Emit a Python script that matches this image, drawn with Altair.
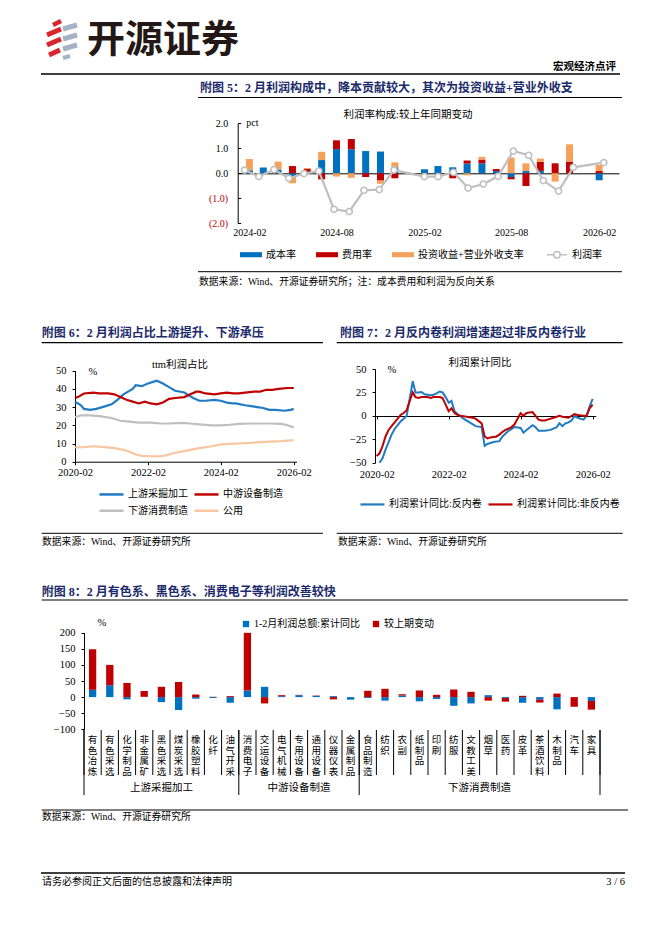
import altair as alt
import pandas as pd

# ---------------- Figure 5: profit-rate decomposition ----------------
m5 = ["2024-02", "2024-03", "2024-04", "2024-05", "2024-06", "2024-07", "2024-08", "2024-09",
      "2024-10", "2024-11", "2024-12", "2025-02", "2025-03", "2025-04", "2025-05", "2025-06",
      "2025-07", "2025-08", "2025-09", "2025-10", "2025-11", "2025-12", "2026-02"]
cost5 = [0.12, 0.23, 0.15, -0.17, 0.00, 0.53, 0.97, 0.96, 0.89, 0.87, 0.24,
         0.16, 0.29, 0.24, 0.39, 0.40, 0.09, -0.15, 0.09, 0.09, 0.00, 0.00, -0.28]
exp5 = [0.00, 0.00, 0.00, 0.29, 0.17, -0.24, 0.35, 0.41, -0.15, -0.29, -0.20,
        0.00, 0.00, -0.20, 0.12, 0.15, 0.08, -0.09, -0.51, 0.37, 0.40, 0.47, 0.09]
inv5 = [0.45, 0.00, 0.32, -0.23, 0.04, 0.33, -0.13, -0.18, 0.00, -0.13, 0.20,
        0.00, 0.00, 0.00, -0.08, 0.11, 0.00, 0.63, 0.31, 0.13, -0.33, 0.69, 0.24]
prof5 = [0.13, -0.13, 0.15, -0.20, -0.01, 0.09, -1.44, -1.53, -0.68, -0.65, 0.13,
         -0.13, -0.13, 0.04, -0.59, -0.43, -0.12, 0.89, 0.72, -0.29, -0.71, 0.24, 0.43]
names5 = ["成本率", "费用率", "投资收益+营业外收支率"]
line5_name = "利润率"
ticks5 = ["2024-02", "2024-08", "2025-02", "2025-08", "2026-02"]

# ---------------- Figure 6: ttm profit share ----------------
names6 = ["上游采掘加工", "中游设备制造", "下游消费制造", "公用"]
up6_d = ["2020-02", "2020-04", "2020-05", "2020-07", "2020-09", "2020-11", "2021-02", "2021-04",
         "2021-06", "2021-09", "2021-10", "2021-12", "2022-02", "2022-04", "2022-05", "2022-07",
         "2022-09", "2022-11", "2023-02", "2023-03", "2023-05", "2023-07", "2023-09", "2023-12",
         "2024-02", "2024-04", "2024-06", "2024-07", "2024-10", "2024-12", "2025-02", "2025-04",
         "2025-06", "2025-08", "2025-11", "2026-01", "2026-02"]
up6_v = [33, 31, 29, 28.5, 29, 30, 31.5, 34, 37, 40, 42, 41.5, 43, 44, 44.5, 43, 41, 39, 38, 37,
         35, 33.5, 33.5, 34, 33.5, 32.5, 32, 32, 31, 30.5, 30, 29.5, 28.5, 28.5, 28, 28.5, 29]
mid6_d = ["2020-02", "2020-03", "2020-05", "2020-08", "2020-10", "2021-01", "2021-03", "2021-05",
          "2021-07", "2021-09", "2021-11", "2022-01", "2022-03", "2022-05", "2022-07", "2022-09",
          "2022-11", "2023-02", "2023-04", "2023-06", "2023-07", "2023-09", "2023-12", "2024-02",
          "2024-04", "2024-06", "2024-08", "2024-10", "2025-01", "2025-03", "2025-05", "2025-07",
          "2025-09", "2025-12", "2026-02"]
mid6_v = [35, 35.5, 37.5, 38, 37.5, 37.5, 37, 35.5, 34, 33, 32, 33, 32, 31.5, 32.5, 34.5, 35,
          35.5, 37, 38.5, 38.5, 37.5, 37, 37.5, 38, 37.5, 37.5, 38, 38.5, 38.5, 39.5, 39.5, 40,
          40.5, 40.5]
down6_d = ["2020-02", "2020-04", "2020-07", "2020-10", "2021-02", "2021-05", "2021-08", "2021-11",
           "2022-03", "2022-06", "2022-09", "2023-01", "2023-04", "2023-07", "2023-11", "2024-02",
           "2024-05", "2024-08", "2024-12", "2025-03", "2025-06", "2025-10", "2025-12", "2026-02"]
down6_v = [24.5, 25.5, 25.5, 25, 24, 22.5, 22, 21.5, 21.5, 21, 21, 21.3, 21, 20.5, 20, 20, 20.3,
           20.8, 21, 21, 21, 20.8, 20, 18.8]
util6_d = ["2020-02", "2020-05", "2020-08", "2020-12", "2021-03", "2021-06", "2021-08", "2021-10",
           "2021-12", "2022-03", "2022-06", "2022-08", "2022-10", "2023-01", "2023-04", "2023-07",
           "2023-11", "2024-02", "2024-05", "2024-08", "2024-12", "2025-03", "2025-06", "2025-10",
           "2026-01", "2026-02"]
util6_v = [7.8, 8, 8.5, 8, 7.5, 6.5, 5.5, 4, 3.2, 3, 3, 3.5, 4.5, 5.5, 6.5, 7.5, 8.5, 9.5, 9.8,
           10, 10.3, 10.8, 11, 11.3, 11.7, 11.8]
ticks67 = ["2020-02", "2022-02", "2024-02", "2026-02"]

# ---------------- Figure 7: cumulative profit growth ----------------
names7 = ["利润累计同比:反内卷", "利润累计同比:非反内卷"]
anti7_d = ["2020-03", "2020-04", "2020-05", "2020-06", "2020-07", "2020-08", "2020-09", "2020-10",
           "2020-11", "2020-12", "2021-01", "2021-02", "2021-03", "2021-04", "2021-05", "2021-06",
           "2021-07", "2021-08", "2021-09", "2021-10", "2021-11", "2021-12", "2022-01", "2022-02",
           "2022-03", "2022-04", "2022-05", "2022-07", "2022-09", "2022-11", "2023-01", "2023-02",
           "2023-03", "2023-05", "2023-07", "2023-08", "2023-10", "2023-12", "2024-02", "2024-03",
           "2024-04", "2024-06", "2024-07", "2024-08", "2024-10", "2024-12", "2025-02", "2025-03",
           "2025-04", "2025-05", "2025-06", "2025-07", "2025-08", "2025-09", "2025-11", "2025-12",
           "2026-01", "2026-02"]
anti7_v = [-50, -45, -36, -28, -20, -14, -10, -6, -3, 0, 18, 37, 25, 25, 25.5, 23, 22.5, 22, 22.5,
           24, 26, 25, 20, 14, 16, 5, 2, -3, -7, -11, -12, -32, -30, -28, -27, -22, -16, -12, -13,
           -18, -15, -10, -12, -16, -16, -15, -12, -8, -11, -8, -7, -5, 0, -2, -4, 0, 10, 18]
non7_d = ["2020-02", "2020-03", "2020-04", "2020-05", "2020-06", "2020-07", "2020-08", "2020-09",
          "2020-10", "2020-11", "2020-12", "2021-01", "2021-02", "2021-03", "2021-04", "2021-05",
          "2021-07", "2021-08", "2021-09", "2021-10", "2021-11", "2021-12", "2022-01", "2022-02",
          "2022-03", "2022-04", "2022-05", "2022-06", "2022-08", "2022-10", "2022-11", "2023-01",
          "2023-02", "2023-03", "2023-04", "2023-06", "2023-07", "2023-08", "2023-09", "2023-11",
          "2023-12", "2024-01", "2024-02", "2024-03", "2024-04", "2024-05", "2024-06", "2024-07",
          "2024-08", "2024-09", "2024-10", "2024-11", "2025-01", "2025-03", "2025-04", "2025-06",
          "2025-08", "2025-09", "2025-11", "2025-12", "2026-01", "2026-02"]
non7_v = [-43, -40, -32, -22, -15, -11, -7, -3, 1, 3, 6, 16, 25, 20, 19, 20, 20, 19, 20, 20, 20,
          19, 12, 5, 8, 3, 1, 0, -1, -2, -3, -8, -22, -24, -23, -22, -20, -17, -15, -12, -9, -3,
          3, 0, 3, 3.5, 4, 0, -4, -5, -5, -4, -2, 0, -1, -2, 2, 1, 0, 0, 8, 12]

# ---------------- Figure 8: industries ----------------
groups8 = ["上游采掘加工", "中游设备制造", "下游消费制造"]
cats8_up = ["有色冶炼", "有色采选", "化学制品", "非金属矿", "黑色采选", "煤炭采选", "橡胶塑料", "化纤", "油气开采"]
cats8_mid = ["消费电子", "交运设备", "电气机械", "专用设备", "通用设备", "仪器仪表", "金属制品"]
cats8_down = ["食品制造", "纺织", "农副", "纸制品", "印刷", "纺服", "文教工美", "烟草", "医药",
              "皮革", "茶酒饮料", "木制品", "汽车", "家具"]
cum8 = [22.7, 37, -7, 1, -15.5, -40, -5, -3, -17.5,
        20.6, 32, 3, 6, 4, 3, -8,
        -3, -11, 5, -13, -6, -27, -19.6, 6, -3, -17.5, -8, -38, 0, -12]
chg8 = [125.8, 63, 44, 18, 32, 47, 8, 1, 3,
        179, -19.6, 3, 1, 1, -7, 0,
        19.6, 25.8, 4, 20.6, 7, 23.7, 16.5, -11, -11, 4, -9, 11, -30, -27]
names8 = ["1-2月利润总额:累计同比", "较上期变动"]

# ---------------- style ----------------
W, H = 646, 920
LAT = "Liberation Serif"
MIX = "Liberation Serif, Noto Sans CJK SC"
CJK = "Noto Sans CJK SC"
NAVY = "#1B2A6B"
BLUE = "#0070C0"
RED = "#C00000"
ORANGE = "#F5A15A"
GRAY = "#BFBFBF"
PEACH = "#F8C6A0"
BLUE6 = "#1F7BC4"


def cx(x):
    return x - 8


def cy(y):
    return y - 8


def txt(s, x, y, size=10.0, align="left", weight="normal", color="black", font=MIX):
    return alt.Chart(pd.DataFrame({"t": [s]})).mark_text(
        align=align, baseline="middle", fontSize=size, fontWeight=weight, color=color, font=font
    ).encode(x=alt.value(cx(x)), y=alt.value(cy(y)), text="t:N")


def hline(x1, x2, y, w=1.0, color="black"):
    return alt.Chart(pd.DataFrame({"a": [0]})).mark_rule(strokeWidth=w, color=color).encode(
        x=alt.value(cx(x1)), x2=alt.value(cx(x2)), y=alt.value(cy(y)))


def seg(x1, y1, x2, y2, w, color):
    return alt.Chart(pd.DataFrame({"a": [0]})).mark_rule(strokeWidth=w, color=color, strokeCap="butt").encode(
        x=alt.value(cx(x1)), y=alt.value(cy(y1)), x2=alt.value(cx(x2)), y2=alt.value(cy(y2)))


def ax(orient, offset, **kw):
    base = dict(orient=orient, offset=offset, grid=False, domainColor="black", domainWidth=1,
                tickColor="black", tickSize=3, labelFont=LAT, labelFontSize=10.5,
                labelColor="black", labelFlush=False, labelOverlap=False, title=None)
    base.update(kw)
    return alt.Axis(**base)


def dt(s, day=1):
    y, m = s.split("-")
    return alt.DateTime(year=int(y), month=int(m), date=day)


def ts(lst):
    return [pd.Timestamp(s + "-01") for s in lst]


def pct_title(x_off, y):
    return dict(title="%", titleAngle=0, titleX=x_off, titleY=cy(y), titleAlign="left",
                titleBaseline="middle", titleFont=LAT, titleFontSize=10.5,
                titleFontWeight="normal", titleColor="black")


layers = []

# ---------------- header ----------------
LRED, LGRAY = "#D7282F", "#A3B3C5"
layers += [
    seg(53, 25, 61, 21, 4.5, LRED), seg(47, 35, 61, 29, 5, LRED),
    seg(47, 45, 61, 39, 5, LRED), seg(49, 55, 60, 50, 5, LRED),
    seg(63, 29, 77, 25, 5, LGRAY), seg(63, 39, 77, 35, 5, LGRAY),
    seg(63, 49, 77, 45, 5, LGRAY), seg(63, 58, 70, 56, 4, LGRAY),
    txt("开源证券", 87, 41, 38, weight="bold", color="#231815", font=CJK),
    txt("宏观经济点评", 616, 67, 10.5, align="right", weight="bold", font=CJK),
    hline(41, 620, 74, 1.5),
]

# ---------------- Figure 5 ----------------
rows = []
for i, d in enumerate(ts(m5)):
    for k, (nm, vals) in enumerate(zip(names5, [cost5, exp5, inv5])):
        rows.append({"date": d, "series": nm, "value": vals[i], "k": k})
df5 = pd.DataFrame(rows)
df5l = pd.DataFrame({"date": ts(m5), "series": line5_name, "value": prof5})

x5 = alt.Scale(domain=[dt("2024-01", 18), dt("2026-03", 4)], range=[cx(237.7), cx(619)], nice=False)
y5 = alt.Scale(domain=[-2, 2], range=[cy(223.3), cy(123.3)], nice=False, zero=False)
x5axis = ax("bottom", cy(173.3) - H, values=[dt(s) for s in ticks5], format="%Y-%m",
            ticks=False, labelPadding=54, labelFontSize=10)
y5axis = ax("left", -cx(237.7), values=[-2, -1, 0, 1, 2], ticks=False,
            labelExpr="datum.value < 0 ? '(' + format(-datum.value, '.1f') + ')' : format(datum.value, '.1f')",
            labelColor={"condition": {"test": "datum.value < 0", "value": RED}, "value": "black"},
            labelPadding=10, labelFontSize=10,
            title="pct", titleAngle=0, titleX=8, titleY=cy(122), titleAlign="left",
            titleBaseline="middle", titleFont=LAT, titleFontSize=10, titleFontWeight="normal",
            titleColor="black")
# inward tick marks of the value axis (drawn as a right-oriented axis at the same spot)
y5ticks_in = ax("right", cx(237.7) - W, values=[-2, -1, 0, 1, 2], labels=False, domain=False,
                tickSize=3)

bars5 = alt.Chart(df5).mark_bar(size=7).encode(
    x=alt.X("date:T", scale=x5, axis=x5axis),
    y=alt.Y("value:Q", stack="zero", scale=y5, axis=y5axis),
    color=alt.Color("series:N", scale=alt.Scale(domain=names5, range=[BLUE, RED, ORANGE]),
                    legend=alt.Legend(orient="none", legendX=cx(240), legendY=cy(243.7),
                                      direction="horizontal", title=None,
                                      symbolType="M-1,-0.23L1,-0.23L1,0.23L-1,0.23Z",
                                      symbolSize=484, symbolStrokeWidth=0, labelFont=MIX,
                                      labelFontSize=10, labelOffset=4, columnPadding=20)),
    order=alt.Order("k:Q"),
)
line5 = alt.Chart(df5l).mark_line(strokeWidth=2.2).encode(
    x=alt.X("date:T", scale=x5, axis=None),
    y=alt.Y("value:Q", scale=y5, axis=y5ticks_in),
    color=alt.Color("series:N", scale=alt.Scale(domain=[line5_name], range=[GRAY]),
                    legend=alt.Legend(orient="none", legendX=cx(546), legendY=cy(243.7),
                                      title=None,
                                      symbolType="M-1,0L-0.32,0M0.32,0L1,0M-0.32,0A0.32,0.32,0,1,1,0.32,0A0.32,0.32,0,1,1,-0.32,0",
                                      symbolSize=400, symbolStrokeWidth=1.5, symbolStrokeColor=GRAY,
                                      labelFont=MIX, labelFontSize=10, labelOffset=4)),
)
pts5 = alt.Chart(df5l).mark_point(filled=True, fill="white", stroke=GRAY, strokeWidth=1.6,
                                  size=38, opacity=1).encode(
    x=alt.X("date:T", scale=x5, axis=None),
    y=alt.Y("value:Q", scale=y5, axis=None),
)

layers += [
    txt("附图 5：2 月利润构成中，降本贡献较大，其次为投资收益+营业外收支", 200, 88, 12,
        weight="bold", color=NAVY),
    hline(198, 622, 97.5, 1.2),
    bars5, line5, pts5,
    txt("利润率构成:较上年同期变动", 408, 115, 10.5, align="center"),
    hline(198, 622, 271.7, 1.0),
    txt("数据来源：Wind、开源证券研究所；注：成本费用和利润为反向关系", 199, 281.7, 9.8),
]

# ---------------- Figure 6 ----------------
df6a = pd.concat([
    pd.DataFrame({"date": ts(d), "series": nm, "value": v})
    for nm, d, v in zip(names6[:2], [up6_d, mid6_d], [up6_v, mid6_v])
])
df6b = pd.concat([
    pd.DataFrame({"date": ts(d), "series": nm, "value": v})
    for nm, d, v in zip(names6[2:], [down6_d, util6_d], [down6_v, util6_v])
])
x6 = alt.Scale(domain=[dt("2020-02"), dt("2026-03")], range=[cx(75), cx(296.5)], nice=False)
y6 = alt.Scale(domain=[0, 50], range=[cy(461.7), cy(370.7)], nice=False, zero=False)


def leg6(y):
    return alt.Legend(orient="none", legendX=cx(98), legendY=cy(y), direction="horizontal",
                      title=None, symbolType="stroke", symbolSize=576, symbolStrokeWidth=2.5,
                      labelFont=MIX, labelFontSize=10, labelOffset=3, columnPadding=1)


chart6b = alt.Chart(df6b).mark_line(strokeWidth=2.2).encode(
    x=alt.X("date:T", scale=x6, axis=None),
    y=alt.Y("value:Q", scale=y6, axis=None),
    color=alt.Color("series:N", sort=names6[2:],
                    scale=alt.Scale(domain=names6[2:], range=[GRAY, PEACH]), legend=leg6(497)),
    detail="series:N",
)
chart6a = alt.Chart(df6a).mark_line(strokeWidth=2.2).encode(
    x=alt.X("date:T", scale=x6,
            axis=ax("bottom", cy(461.7) - H, values=[dt(s) for s in ticks67], format="%Y-%m",
                    tickSize=3, labelPadding=3)),
    y=alt.Y("value:Q", scale=y6,
            axis=ax("left", -cx(75), values=[0, 10, 20, 30, 40, 50], labelPadding=6,
                    **pct_title(13, 371))),
    color=alt.Color("series:N", sort=names6[:2],
                    scale=alt.Scale(domain=names6[:2], range=[BLUE6, RED]), legend=leg6(480.7)),
    detail="series:N",
)
layers += [
    txt("附图 6：2 月利润占比上游提升、下游承压", 41.7, 333.3, 12, weight="bold", color=NAVY),
    hline(41.7, 323, 342.7, 1.2),
    chart6b, chart6a,
    txt("ttm利润占比", 180, 365, 10.5, align="center"),
    hline(41.7, 323, 533.3, 1.0),
    txt("数据来源：Wind、开源证券研究所", 42, 541.7, 9.8),
]

# ---------------- Figure 7 ----------------
df7 = pd.concat([
    pd.DataFrame({"date": ts(d), "series": nm, "value": v})
    for nm, d, v in zip(names7, [anti7_d, non7_d], [anti7_v, non7_v])
])
x7 = alt.Scale(domain=[dt("2020-01", 15), dt("2026-03", 4)], range=[cx(375), cx(595.7)], nice=False)
y7 = alt.Scale(domain=[-50, 50], range=[cy(462.7), cy(369)], nice=False, zero=False)
chart7 = alt.Chart(df7).mark_line(strokeWidth=2.0).encode(
    x=alt.X("date:T", scale=x7,
            axis=ax("bottom", cy(416) - H, values=[dt(s) for s in ticks67], format="%Y-%m",
                    tickSize=3, labelPadding=50)),
    y=alt.Y("value:Q", scale=y7,
            axis=ax("left", -cx(375), values=[-50, -25, 0, 25, 50], labelPadding=6,
                    **pct_title(12, 369))),
    color=alt.Color("series:N", sort=names7, scale=alt.Scale(domain=names7, range=[BLUE6, RED]),
                    legend=alt.Legend(orient="none", legendX=cx(359), legendY=cy(490.7),
                                      direction="horizontal", title=None, symbolType="stroke",
                                      symbolSize=576, symbolStrokeWidth=2.2, labelFont=MIX,
                                      labelFontSize=10, labelOffset=3, columnPadding=2)),
    detail="series:N",
)
layers += [
    txt("附图 7：2 月反内卷利润增速超过非反内卷行业", 340, 333.3, 12, weight="bold", color=NAVY),
    hline(336.7, 622.7, 342.7, 1.2),
    chart7,
    txt("利润累计同比", 480, 363, 10.5, align="center"),
    hline(336.7, 622.7, 533.3, 1.0),
    txt("数据来源：Wind、开源证券研究所", 338, 541.7, 9.8),
]

# ---------------- Figure 8 ----------------
cats8 = cats8_up + cats8_mid + cats8_down
rows = []
for i, c in enumerate(cats8):
    rows.append({"cat": c, "series": names8[0], "value": cum8[i], "k": 0})
    rows.append({"cat": c, "series": names8[1], "value": chg8[i], "k": 1})
df8 = pd.DataFrame(rows)
df8c = pd.DataFrame([{"cat": c, "ch": ch, "j": j} for c in cats8 for j, ch in enumerate(c)])
n8 = len(cats8)
sizes8 = [len(cats8_up), len(cats8_mid), len(cats8_down)]
starts8 = [sum(sizes8[:j]) for j in range(3)]
ends8 = [starts8[j] + sizes8[j] for j in range(3)]
df8g = pd.DataFrame({"g": groups8, "mid": [(s + e) / 2 for s, e in zip(starts8, ends8)]})
df8b = pd.DataFrame({"i": list(range(n8 + 1))})
df8gb = pd.DataFrame({"b": sorted(set(starts8 + ends8))})

x8 = alt.Scale(domain=cats8, range=[cx(84), cx(600)], paddingInner=0, paddingOuter=0)
y8 = alt.Scale(domain=[-100, 200], range=[cy(729.3), cy(632.7)], nice=False, zero=False)
xi8 = alt.Scale(domain=[0, n8], range=[cx(84), cx(600)], nice=False, zero=False)

bars8 = alt.Chart(df8).mark_bar(size=7.3).encode(
    x=alt.X("cat:N", scale=x8, sort=cats8, axis=None),
    y=alt.Y("value:Q", stack="zero", scale=y8,
            axis=ax("left", -cx(84), values=[-100, -50, 0, 50, 100, 150, 200], labelPadding=6,
                    **pct_title(13, 622.7))),
    color=alt.Color("series:N", scale=alt.Scale(domain=names8, range=[BLUE, RED]),
                    legend=alt.Legend(orient="none", legendX=cx(241), legendY=cy(619),
                                      direction="horizontal", title=None, symbolType="square",
                                      symbolSize=40, symbolStrokeWidth=0, labelFont=MIX,
                                      labelFontSize=10, labelOffset=3, columnPadding=10)),
    order=alt.Order("k:Q"),
)
catlab8 = alt.Chart(df8c).mark_text(font=MIX, fontSize=9.5, baseline="middle").encode(
    x=alt.X("cat:N", scale=x8, sort=cats8, axis=None),
    y=alt.Y("j:Q", scale=alt.Scale(domain=[0, 3], range=[cy(740), cy(772.1)], nice=False, zero=False),
            axis=None),
    text="ch:N",
)
seps8 = alt.Chart(df8b).mark_rule(color="black", strokeWidth=1).encode(
    x=alt.X("i:Q", scale=xi8,
            axis=ax("bottom", cy(697.3) - H, values=list(range(n8 + 1)), labels=False, tickSize=4)),
    y=alt.value(cy(730)), y2=alt.value(cy(775)),
)
gseps8 = alt.Chart(df8gb).mark_rule(color="black", strokeWidth=1).encode(
    x=alt.X("b:Q", scale=xi8, axis=None),
    y=alt.value(cy(730)), y2=alt.value(cy(795)),
)
glabels8 = alt.Chart(df8g).mark_text(font=CJK, fontSize=10.5, baseline="middle").encode(
    x=alt.X("mid:Q", scale=xi8, axis=None),
    y=alt.value(cy(788)),
    text="g:N",
)
frame8 = alt.layer(seps8, gseps8, glabels8)

layers += [
    txt("附图 8：2 月有色系、黑色系、消费电子等利润改善较快", 41.7, 591.7, 12, weight="bold", color=NAVY),
    hline(41.7, 628, 600, 1.2),
    bars8,
    catlab8,
    frame8,
    hline(41.7, 628, 810, 1.0),
    txt("数据来源：Wind、开源证券研究所", 42, 817, 9.8),
]

# ---------------- footer ----------------
layers += [
    hline(41, 625, 873, 1.3),
    txt("请务必参阅正文后面的信息披露和法律声明", 42, 882, 10),
    txt("3 / 6", 625, 882, 10.5, align="right", font=LAT),
]

chart = alt.layer(*layers).resolve_scale(
    x="independent", y="independent", color="independent"
).properties(
    width=W, height=H, padding=0, autosize=alt.AutoSizeParams(type="none"),
    background="white",
).configure_view(stroke=None)

chart.save("out.html", embed_options={"renderer": "svg", "actions": False})
